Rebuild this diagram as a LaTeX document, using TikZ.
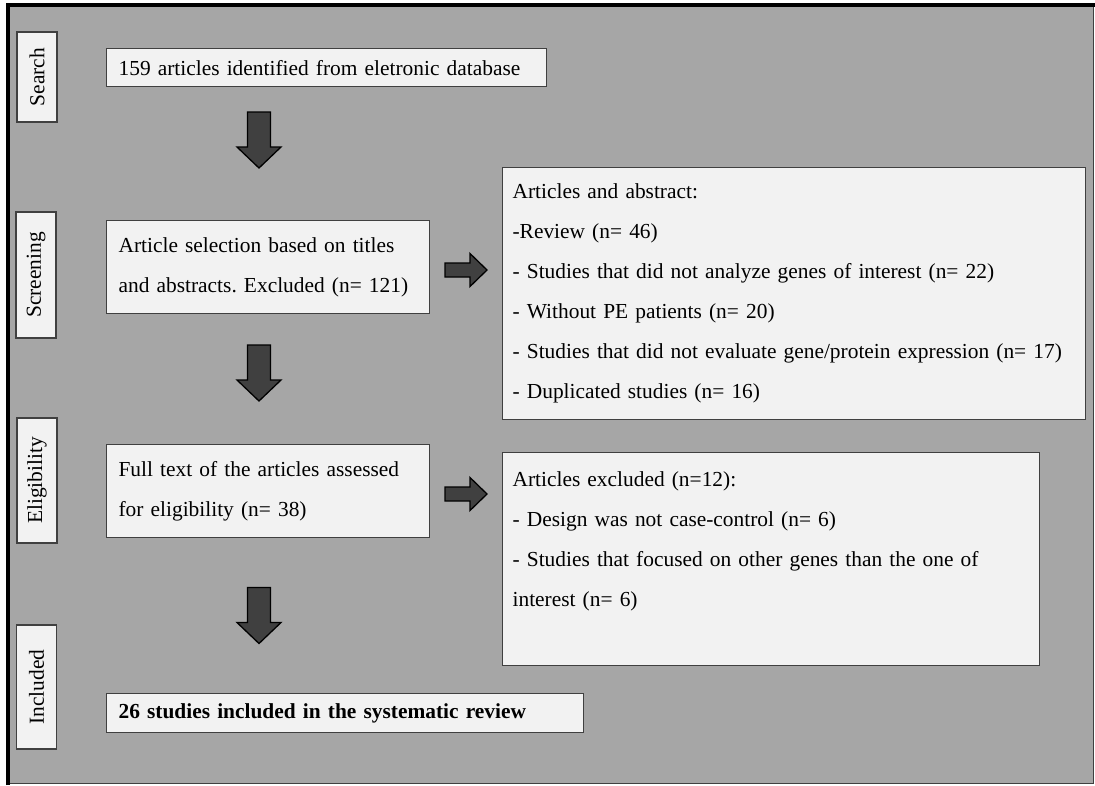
\documentclass[tikz,border=0pt]{standalone}
\usepackage{fontspec}
\setmainfont{Liberation Serif}
\usepackage{tikz}
\usetikzlibrary{positioning}
\frenchspacing
\definecolor{panelgray}{HTML}{A6A6A6}
\definecolor{boxfill}{HTML}{F2F2F2}
\definecolor{boxline}{HTML}{404040}
\definecolor{blkgray}{HTML}{404040}

\tikzset{
  stagebox/.style={draw=boxline, fill=boxfill, line width=1.2pt, rotate=90,
    minimum height=40pt, inner sep=0pt, font=\fontsize{21.4}{26}\selectfont},
  flowbox/.style={draw=boxline, fill=boxfill, line width=1.2pt, anchor=north west,
    align=left, inner xsep=12pt, inner ysep=0pt, font=\fontsize{21.4}{40}\selectfont},
  blkarrow/.style={draw=black, fill=blkgray, line width=1.3pt, line join=miter},
  pics/downblk/.style={code={
    \draw[blkarrow] (-11.5,-28) -- (11.5,-28) -- (11.5,7) -- (22,7) -- (0,28)
      -- (-22,7) -- (-11.5,7) -- cycle;}},
  pics/rightblk/.style={code={
    \draw[blkarrow] (-21,-7) -- (4,-7) -- (4,-16.5) -- (21,0) -- (4,16.5)
      -- (4,7) -- (-21,7) -- cycle;}},
}

\begin{document}
\begin{tikzpicture}[x=1pt, y=-1pt]
  \useasboundingbox (0,0) rectangle (1095,785);
  % panel
  \fill[panelgray] (8,5) rectangle (1093,783);
  \draw[boxline, line width=1pt] (1093,5) -- (1093,783) -- (8,783);
  \draw[black, line width=4pt] (8,785) -- (8,5) -- (1095,5);

  % stages
  \node[stagebox, minimum width=90pt] (search) at (37,77) {Search};
  \node[stagebox, minimum width=126pt] (screen) at (36,275) {Screening};
  \node[stagebox, minimum width=125pt] (elig) at (37,480.5) {Eligibility};
  \node[stagebox, minimum width=124pt] (incl) at (36.5,687) {Included};

  % main column
  \node[flowbox, text width=416pt, minimum height=38pt] (found) at (106,48)
    {159 articles identified from eletronic database};
  \node[flowbox, text width=299pt, minimum height=93pt] (select) at (106,220)
    {Article selection based on titles\\ and abstracts. Excluded (n= 121)};
  \node[flowbox, text width=299pt, minimum height=93pt] (fulltext) at (106,444)
    {Full text of the articles assessed\\ for eligibility (n= 38)};
  \node[flowbox, text width=453pt, minimum height=39pt,
    font=\fontsize{21.4}{40}\selectfont\bfseries] (final) at (106,693)
    {26 studies included in the systematic review};

  % exclusions
  \node[flowbox, text width=563pt, inner xsep=10pt, minimum height=252pt] (excl1) at (502,167)
    {Articles and abstract:\\
     -Review (n= 46)\\
     - Studies that did not analyze genes of interest (n= 22)\\
     - Without PE patients (n= 20)\\
     - Studies that did not evaluate gene/protein expression (n= 17)\\
     - Duplicated studies (n= 16)};
  \node[flowbox, text width=517pt, inner xsep=10pt, minimum height=213pt] (excl2) at (502,452)
    {Articles excluded (n=12):\\
     - Design was not case-control (n= 6)\\
     - Studies that focused on other genes than the one of\\
     interest (n= 6)\\ \mbox{}};

  % block arrows
  \pic (dn1) at (259,140) {downblk};
  \pic (dn2) at (259,373) {downblk};
  \pic (dn3) at (259,615.5) {downblk};
  \pic (rt1) at (466,270) {rightblk};
  \pic (rt2) at (466,494) {rightblk};
\end{tikzpicture}
\end{document}
